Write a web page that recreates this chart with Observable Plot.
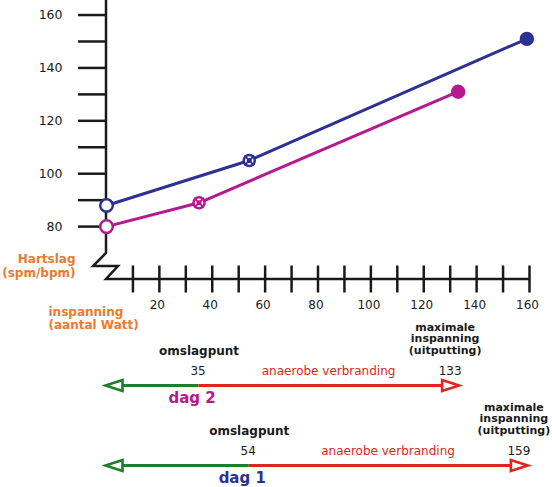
<!DOCTYPE html>
<html>
<head>
<meta charset="utf-8">
<script src="https://cdn.jsdelivr.net/npm/d3@7"></script>
<script src="https://cdn.jsdelivr.net/npm/@observablehq/plot@0.6"></script>
<style>
  body { margin: 0; background: #fff; }
  #chart svg { display: block; overflow: visible; }
</style>
</head>
<body>
<div id="chart"></div>
<script>
// ---- data ----
const wattDay1 = [0, 54, 159];
const hrDay1 = [88, 105, 151];
const wattDay2 = [0, 35, 133];
const hrDay2 = [80, 89, 131];

const yTicks = [80, 90, 100, 110, 120, 130, 140, 150, 160];
const yLabels = [80, 100, 120, 140, 160];
const xTicks = [10, 20, 30, 40, 50, 60, 70, 80, 90, 100, 110, 120, 130, 140, 150, 160];
const xLabels = [20, 40, 60, 80, 100, 120, 140, 160];

const days = ["dag 2", "dag 1"];
const omslagpunt = [35, 54];
const maxInspanning = [133, 159];

// ---- styles ----
const BLUE = "#2e3192";
const MAGENTA = "#b8188f";
const GREEN = "#1f7d2b";
const RED = "#e32322";
const ORANGE = "#ec7a2e";
const INK = "#1a1a1a";
const dayColors = [MAGENTA, BLUE];

const xDomain = [0, 160];
const yDomain = [60, 165.5];
const font = "'DejaVu Sans', sans-serif";

const series = [
  {watt: wattDay1, hr: hrDay1, color: BLUE},
  {watt: wattDay2, hr: hrDay2, color: MAGENTA}
];
const points = series.flatMap(s => s.watt.map((w, i) => ({w, hr: s.hr[i], color: s.color, stage: i})));
const startPts = points.filter(d => d.stage === 0);
const midPts = points.filter(d => d.stage === 1);
const endPts = points.filter(d => d.stage === 2);

// axis lines with the break (zigzag) at the origin
function axisLines(index, scales) {
  const x = scales.x, y = scales.y;
  const x0 = x(xDomain[0]), y0 = y(yDomain[0]), yTop = y(yDomain[1]), xEnd = x(xDomain[1]);
  const d = `M${x0},${yTop}V${y0 - 26}L${x0 - 13},${y0 - 13}H${x0 + 12}L${x0},${y0}H${xEnd}`;
  return d3.create("svg:path")
    .attr("d", d)
    .attr("fill", "none")
    .attr("stroke", INK)
    .attr("stroke-width", 2.5)
    .node();
}

const X = {domain: xDomain, range: [106, 529], axis: null};

const chart = Plot.plot({
  width: 552,
  height: 335,
  x: X,
  y: {domain: yDomain, range: [279, 0], axis: null},
  style: {fontFamily: font, fontSize: "12px", overflow: "visible", background: "transparent"},
  marks: [
    axisLines,
    Plot.ruleY(yTicks, {y: d => d, x1: 0, x2: 0, insetLeft: -28, stroke: INK, strokeWidth: 2.5}),
    Plot.text(yLabels, {x: 0, y: d => d, dx: -44, textAnchor: "end", fontSize: 12.5, fill: INK}),
    Plot.ruleX(xTicks, {x: d => d, y1: 60, y2: 60, insetTop: -13.5, insetBottom: -13.5, stroke: INK, strokeWidth: 2.5}),
    Plot.text(xLabels, {x: d => d, y: 60, dy: 26, dx: -2, fontSize: 12, fill: INK}),
    Plot.text(["Hartslag\n(spm/bpm)"], {x: 0, y: 60, text: d => d, dx: -31, dy: -14, textAnchor: "end",
      lineHeight: 1.17, fontWeight: "bold", fontSize: 12, fill: ORANGE}),
    Plot.text(["inspanning\n(aantal Watt)"], {x: 0, y: 60, text: d => d, dx: -58, dy: 38.5, textAnchor: "start",
      lineHeight: 1.1, fontWeight: "bold", fontSize: 12, fill: ORANGE}),
    Plot.line(points, {x: "w", y: "hr", z: "color", stroke: "color", strokeWidth: 3}),
    Plot.dot(startPts, {x: "w", y: "hr", r: 6.3, fill: "white", stroke: "color", strokeWidth: 2.5}),
    Plot.dot(midPts, {x: "w", y: "hr", r: 6.8, fill: "color"}),
    Plot.dot(midPts, {x: "w", y: "hr", r: 3.4, fill: "none", stroke: "white", strokeWidth: 1.7}),
    Plot.dot(midPts, {x: "w", y: "hr", r: 4.5, symbol: "times", stroke: "color", strokeWidth: 1.8}),
    Plot.dot(endPts, {x: "w", y: "hr", r: 7.2, fill: "color"})
  ]
});

// open triangular arrow heads, tip at the origin
const arrowRight = {draw(ctx) { ctx.moveTo(1, 0); ctx.lineTo(-16, -5.5); ctx.lineTo(-16, 5.5); ctx.closePath(); }};
const arrowLeft = {draw(ctx) { ctx.moveTo(-1, 0); ctx.lineTo(16, -5.5); ctx.lineTo(16, 5.5); ctx.closePath(); }};

const arrows = Plot.plot({
  width: 552,
  height: 152,
  x: X,
  y: {type: "point", domain: days, range: [50, 130], padding: 0, axis: null},
  style: {fontFamily: font, fontSize: "12px", overflow: "visible", background: "transparent"},
  marks: [
    Plot.ruleY(days, {y: d => d, x1: 0, x2: (d, i) => omslagpunt[i], stroke: GREEN, strokeWidth: 3}),
    Plot.ruleY(days, {y: d => d, x1: (d, i) => omslagpunt[i], x2: (d, i) => maxInspanning[i], stroke: RED, strokeWidth: 3}),
    Plot.dot(days, {x: 0, y: d => d, symbol: arrowLeft, r: 6, fill: "white", stroke: GREEN, strokeWidth: 2.6}),
    Plot.dot(days, {x: (d, i) => maxInspanning[i], y: d => d, symbol: arrowRight, r: 6, fill: "white", stroke: RED, strokeWidth: 2.6}),
    Plot.text(days, {x: (d, i) => omslagpunt[i], y: d => d, text: () => "omslagpunt", dy: -34,
      fontWeight: "bold", fontSize: 12, fill: INK}),
    Plot.text(days, {x: (d, i) => omslagpunt[i], y: d => d, text: (d, i) => String(omslagpunt[i]), dy: -14, dx: -1,
      fontSize: 12, fill: INK}),
    Plot.text(days, {x: (d, i) => (omslagpunt[i] + maxInspanning[i]) / 2, y: d => d, text: () => "anaerobe verbranding",
      dy: -14, fontSize: 12, fill: RED}),
    Plot.text(days, {x: (d, i) => maxInspanning[i], y: d => d, text: (d, i) => String(maxInspanning[i]), dy: -14, dx: -8,
      fontSize: 12, fill: INK}),
    Plot.text(days, {x: (d, i) => maxInspanning[i], y: d => d, text: () => "maximale\ninspanning\n(uitputting)",
      dy: -47, dx: -13, lineHeight: 1.05, fontWeight: "bold", fontSize: 11, fill: INK}),
    Plot.text(days, {x: (d, i) => omslagpunt[i], y: d => d, text: d => d, dy: 13, dx: -7,
      fontWeight: "bold", fontSize: 15, fill: (d, i) => dayColors[i]})
  ]
});

const root = document.getElementById("chart");
root.appendChild(chart);
root.appendChild(arrows);
</script>
</body>
</html>
